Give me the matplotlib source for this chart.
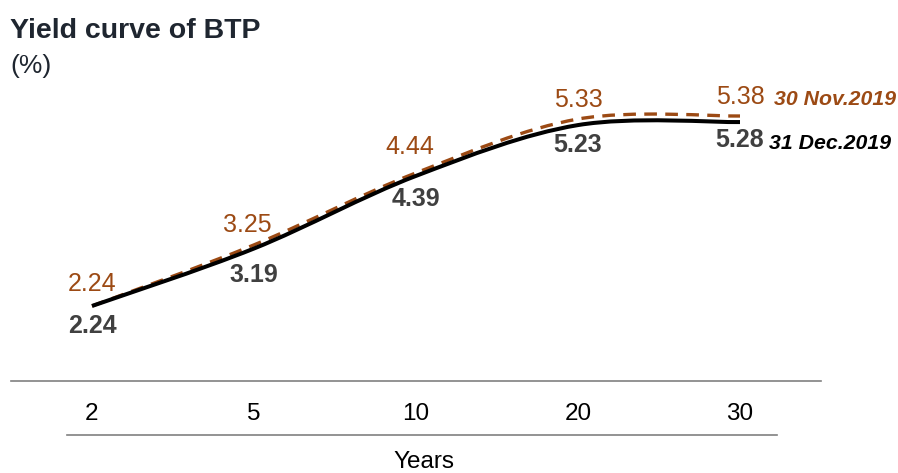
import matplotlib
matplotlib.use("Agg")
import matplotlib.pyplot as plt
from matplotlib.path import Path
from matplotlib.patches import PathPatch

plt.rcParams['font.family'] = ['Liberation Sans', 'DejaVu Sans']

# Data
maturities = ['2', '5', '10', '20', '30']
nov_2019 = [2.24, 3.25, 4.44, 5.33, 5.38]
dec_2019 = [2.24, 3.19, 4.39, 5.23, 5.28]

BROWN = '#9C4A14'
DARK = '#404040'


def smooth_path(xs, ys):
    # cubic bezier through the points (like a "smoothed line" chart)
    n = len(xs)
    verts = [(xs[0], ys[0])]
    codes = [Path.MOVETO]
    for i in range(n - 1):
        x0, y0 = xs[max(i - 1, 0)], ys[max(i - 1, 0)]
        x1, y1 = xs[i], ys[i]
        x2, y2 = xs[i + 1], ys[i + 1]
        x3, y3 = xs[min(i + 2, n - 1)], ys[min(i + 2, n - 1)]
        c1 = (x1 + (x2 - x0) / 6, y1 + (y2 - y0) / 6)
        c2 = (x2 - (x3 - x1) / 6, y2 - (y3 - y1) / 6)
        verts += [c1, c2, (x2, y2)]
        codes += [Path.CURVE4] * 3
    return Path(verts, codes)


fig = plt.figure(figsize=(8.98, 4.73), dpi=100)
ax = fig.add_axes([11 / 898, 92 / 473, 810 / 898, 302.5 / 473])
x = list(range(len(maturities)))

p_nov = PathPatch(smooth_path(x, nov_2019), facecolor='none', edgecolor=BROWN,
                  lw=2.4, linestyle=(0, (3.8, 2.5)), capstyle='butt', zorder=2)
p_dec = PathPatch(smooth_path(x, dec_2019), facecolor='none', edgecolor='black',
                  lw=2.9, capstyle='butt', zorder=3)
ax.add_patch(p_nov)
ax.add_patch(p_dec)

ax.set_xlim(-0.5, len(maturities) - 0.5)
ax.set_ylim(1, 6)

# value labels
nov_dx = [0, -7, -6, 0, 0]
nov_dy = [22, 20, 26, 19, 19]
dec_dy = [20, 26, 23, 20, 18]
for i in x:
    ax.annotate(f'{nov_2019[i]:.2f}', (i, nov_2019[i]), xytext=(nov_dx[i], nov_dy[i]),
                textcoords='offset pixels', ha='center', va='center',
                fontsize=18, color=BROWN)
    ax.annotate(f'{dec_2019[i]:.2f}', (i, dec_2019[i]), xytext=(0, -dec_dy[i]),
                textcoords='offset pixels', ha='center', va='center',
                fontsize=18, color=DARK, fontweight='bold')

# series names
ax.annotate('30 Nov.2019', (4, nov_2019[-1]), xytext=(34, 17), textcoords='offset pixels',
            ha='left', va='center', fontsize=15.3, color=BROWN,
            fontweight='bold', fontstyle='italic', annotation_clip=False)
ax.annotate('31 Dec.2019', (4, dec_2019[-1]), xytext=(29, -21), textcoords='offset pixels',
            ha='left', va='center', fontsize=15.3, color='black',
            fontweight='bold', fontstyle='italic', annotation_clip=False)

# axes styling
for s in ['top', 'right', 'left']:
    ax.spines[s].set_visible(False)
ax.spines['bottom'].set_color('#808080')
ax.spines['bottom'].set_linewidth(1.2)
ax.set_yticks([])
ax.set_xticks(x)
ax.set_xticklabels(maturities, fontsize=17.5)
ax.tick_params(axis='x', length=0, pad=16)

# lower rule under the tick labels
ax.plot([0.069, 0.946], [-0.18, -0.18], transform=ax.transAxes, color='#808080',
        lw=1.2, clip_on=False)

fig.text(424 / 898, 1 - 462 / 473, 'Years', ha='center', va='center', fontsize=17.5)
fig.text(10 / 898, 1 - 31 / 473, 'Yield curve of BTP', ha='left', va='center',
         fontsize=20.5, fontweight='bold', color='#1F2630')
fig.text(10 / 898, 1 - 66 / 473, '(%)', ha='left', va='center', fontsize=19,
         color='#1F2630')

fig.savefig('out.png', dpi=100)
